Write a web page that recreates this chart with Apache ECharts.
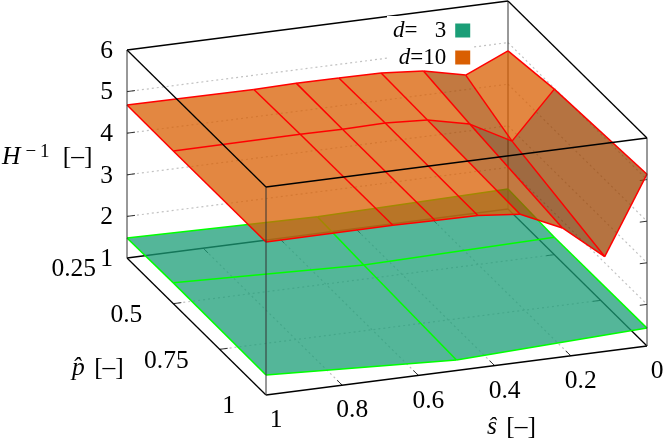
<!DOCTYPE html>
<html>
<head>
<meta charset="utf-8">
<style>html,body{margin:0;padding:0;background:#fff}#c{width:663px;height:440px}</style>
<script src="https://cdn.jsdelivr.net/npm/echarts@6/dist/echarts.min.js"></script>
</head>
<body>
<div id="c"></div>
<script>
// ---- data ----
const pMesh = [0.25, 0.5, 1];
const sMeshD3 = [0, 0.5, 1];
const zD3 = [
  [1.48, 1.40, 1.48],
  [1.42, 1.34, 1.50],
  [1.43, 1.25, 1.48]
];
const sMeshD10 = [0, 0.111, 0.222, 0.333, 0.444, 0.556, 0.667, 1];
const zD10 = [
  [4.80, 4.35, 4.58, 4.66, 4.67, 4.68, 4.66, 4.68],
  [4.98, 3.86, 4.40, 4.63, 4.69, 4.67, 4.68, 4.67],
  [5.13, 3.28, 4.10, 4.56, 4.66, 4.67, 4.69, 4.68]
];
const sTicks = [0, 0.2, 0.4, 0.6, 0.8, 1];
const sTickLabels = ['0', '0.2', '0.4', '0.6', '0.8', '1'];
const pTicks = [0.25, 0.5, 0.75, 1];
const pTickLabels = ['0.25', '0.5', '0.75', '1'];
const zTicks = [1, 2, 3, 4, 5, 6];
const zTickLabels = ['1', '2', '3', '4', '5', '6'];
// brightness of each d=10 facet (row = p band, column = s band)
const shadeD10 = [
  [1, 0.80, 1, 1, 1, 1, 1],
  [0.72, 0.585, 0.80, 1, 1, 1, 1]
];

// ---- view ----
const SHEAR_S = 49, P_DX = 139 / 0.75, P_DY = 137 / 0.75;
const FONT = 'Liberation Serif';
const FS = 25.5;
const P0 = pTicks[0], P1 = 1, Z0 = 1, Z1 = 6;

function project(api, s, p, z) {
  const c = api.coord([s, z]);
  return [c[0] + (p - 1) * P_DX, c[1] - SHEAR_S * (1 - s) + (p - 1) * P_DY];
}
function quads(sArr, zMat, rowBase) {
  const out = [];
  for (let r = 0; r < pMesh.length - 1; r++)
    for (let c = 0; c < sArr.length - 1; c++)
      out.push({
        shade: rowBase ? rowBase[r][c] : 1,
        pts: [[sArr[c], pMesh[r], zMat[r][c]], [sArr[c + 1], pMesh[r], zMat[r][c + 1]],
              [sArr[c + 1], pMesh[r + 1], zMat[r + 1][c + 1]], [sArr[c], pMesh[r + 1], zMat[r + 1][c]]]
      });
  return out;
}
function meshLines(sArr, zMat) {
  const out = [];
  pMesh.forEach((p, r) => {
    for (let c = 0; c < sArr.length - 1; c++)
      out.push([[sArr[c], p, zMat[r][c]], [sArr[c + 1], p, zMat[r][c + 1]]]);
  });
  sArr.forEach((s, c) => {
    for (let r = 0; r < pMesh.length - 1; r++)
      out.push([[s, pMesh[r], zMat[r][c]], [s, pMesh[r + 1], zMat[r + 1][c]]]);
  });
  return out;
}
function fillSeries(name, base, list) {
  return {
    type: 'custom', name, silent: true, animation: false, clip: false,
    itemStyle: { color: 'rgb(' + base.join(',') + ')' },
    data: list.map(q => [q.pts[0][0], q.pts[0][2]]),
    renderItem: (params, api) => {
      const q = list[params.dataIndex];
      const rgb = base.map(v => Math.round(v * q.shade));
      return { type: 'polygon', shape: { points: q.pts.map(a => project(api, a[0], a[1], a[2])) },
        style: { fill: 'rgba(' + rgb.join(',') + ',0.75)', stroke: null } };
    }
  };
}
function lineSeries(list, styleOf) {
  return {
    type: 'custom', silent: true, animation: false, clip: false,
    data: list.map(l => [l[0][0], l[0][2]]),
    renderItem: (params, api) => {
      const l = list[params.dataIndex];
      const a = project(api, l[0][0], l[0][1], l[0][2]);
      const b = project(api, l[1][0], l[1][1], l[1][2]);
      return { type: 'line', shape: { x1: a[0], y1: a[1], x2: b[0], y2: b[1] }, style: styleOf(l) };
    }
  };
}

// back of the box: grid, ticks, rear edges
const gridSegs = [];
zTicks.slice(1, -1).forEach(z => {
  gridSegs.push([[1, P0, z], [0, P0, z]]);
  gridSegs.push([[0, P0, z], [0, P1, z]]);
});
sTicks.slice(1, -1).forEach(s => gridSegs.push([[s, P1, Z0], [s, P0, Z0]]));
pTicks.slice(1, -1).forEach(p => gridSegs.push([[1, p, Z0], [0, p, Z0]]));

const TICK_S = 0.021, TICK_P = 0.027;
const tickSegs = [];
zTicks.slice(1, -1).forEach(z => {
  tickSegs.push([[1, P0, z], [1 - TICK_S, P0, z]]);
  tickSegs.push([[0, P1, z], [TICK_S * 0.9, P1, z]]);
});
sTicks.slice(1, -1).forEach(s => {
  tickSegs.push([[s, P1, Z0], [s, P1 - TICK_P, Z0]]);
  tickSegs.push([[s, P0, Z0], [s, P0 + TICK_P, Z0]]);
});
pTicks.slice(1, -1).forEach(p => {
  tickSegs.push([[1, p, Z0], [1 - TICK_S, p, Z0]]);
  tickSegs.push([[0, p, Z0], [TICK_S, p, Z0]]);
});
const rearEdges = [
  [[1, P0, Z0], [0, P0, Z0]], [[0, P0, Z0], [0, P1, Z0]],
  [[1, P0, Z0], [1, P1, Z0]], [[1, P1, Z0], [0, P1, Z0]]
];
const rearVertical = [[[0, P0, Z0], [0, P0, Z1]]];
const frontVertical = [
  [[1, P0, Z0], [1, P0, Z1]], [[0, P1, Z0], [0, P1, Z1]], [[1, P1, Z0], [1, P1, Z1]]
];
const topEdges = [
  [[1, P0, Z1], [0, P0, Z1]], [[0, P0, Z1], [0, P1, Z1]],
  [[1, P0, Z1], [1, P1, Z1]], [[1, P1, Z1], [0, P1, Z1]]
];

// tick labels and axis titles
const labels = [];
zTicks.forEach((z, i) => labels.push({ at: [1, P0, z], dx: -14, dy: 1, align: 'right', text: zTickLabels[i] }));
pTicks.forEach((p, i) => labels.push({ at: [1, p, Z0], dx: -31, dy: 11.5, align: 'right', text: pTickLabels[i] }));
sTicks.forEach((s, i) => labels.push({ at: [s, P1, Z0], dx: 10, dy: 25.5, align: 'center', text: sTickLabels[i] }));

const titles = [
  { x: 2, y: 157, rich: '{i|H}{u|\u2212\u20091}{t| [\u2013]}' },
  { x: 72, y: 368, rich: '{j|p\u0302}{t| [\u2013]}' },
  { x: 487, y: 427, rich: '{j|s\u0302}{t| [\u2013]}' }
];
const richStyles = {
  i: { fontFamily: FONT, fontStyle: 'italic', fontSize: FS, fill: '#000' },
  j: { fontFamily: FONT, fontStyle: 'italic', fontSize: FS, fill: '#000', padding: [0, 3, 0, 0] },
  t: { fontFamily: FONT, fontSize: FS, fill: '#000' },
  u: { fontFamily: FONT, fontSize: 19, padding: [0, 7, 10, 5], fill: '#000' }
};

const labelSeries = {
  type: 'custom', silent: true, animation: false, clip: false,
  data: labels.map(l => [l.at[0], l.at[2]]),
  renderItem: (params, api) => {
    const l = labels[params.dataIndex];
    const c = project(api, l.at[0], l.at[1], l.at[2]);
    return { type: 'text', x: c[0] + l.dx, y: c[1] + l.dy,
      style: { text: l.text, fontFamily: FONT, fontSize: FS, fill: '#000', align: l.align, verticalAlign: 'middle' } };
  }
};
const titleSeries = {
  type: 'custom', silent: true, animation: false, clip: false,
  data: titles.map(() => [0.5, 3]),
  renderItem: (params) => {
    const t = titles[params.dataIndex];
    return { type: 'text', x: t.x, y: t.y,
      style: { text: t.rich, rich: richStyles, fontFamily: FONT, fontSize: FS, fill: '#000', align: 'left', verticalAlign: 'middle' } };
  }
};

const gridStyle = () => ({ stroke: '#c2c2c2', lineWidth: 1.2, lineDash: [2, 3], fill: null });
const D3 = 'd= 3', D10 = 'd=10';
const green = { stroke: '#00ff00', lineWidth: 1.5, fill: null };
const red = { stroke: '#ff0000', lineWidth: 1.5, fill: null };

const chart = echarts.init(document.getElementById('c'), null, { renderer: 'canvas', width: 663, height: 440 });
chart.setOption({
  animation: false,
  backgroundColor: '#fff',
  grid: { left: 266, top: 187, width: 381, height: 208, show: false },
  xAxis: { type: 'value', min: 0, max: 1, inverse: true, show: false },
  yAxis: { type: 'value', min: Z0, max: Z1, show: false },
  legend: {
    data: [D3, D10], orient: 'vertical', align: 'right', icon: 'rect',
    left: 387, top: 16, padding: [3, 2, 1, 6], itemGap: 4, itemWidth: 15, itemHeight: 14,
    backgroundColor: '#fff', selectedMode: false,
    formatter: n => n === D3 ? '{i|d}{t|=\u2002 3}' : '{i|d}{t|=10}',
    textStyle: { fontFamily: FONT, fontSize: 23, color: '#000', lineHeight: 20,
      rich: {
        i: { fontFamily: FONT, fontStyle: 'italic', fontSize: 23, color: '#000', lineHeight: 20 },
        t: { fontFamily: FONT, fontSize: 23, color: '#000', lineHeight: 20, padding: [0, 4, 0, 0] }
      } }
  },
  series: [
    lineSeries(gridSegs, gridStyle),
    lineSeries(tickSegs, () => ({ stroke: '#333', lineWidth: 1, fill: null })),
    lineSeries(rearVertical, () => ({ stroke: '#333', lineWidth: 1, fill: null })),
    lineSeries(rearEdges, () => ({ stroke: '#000', lineWidth: 1.3, fill: null })),
    fillSeries(D3, [27, 158, 119], quads(sMeshD3, zD3)),
    lineSeries(meshLines(sMeshD3, zD3), () => green),
    fillSeries(D10, [217, 95, 2], quads(sMeshD10, zD10, shadeD10)),
    lineSeries(meshLines(sMeshD10, zD10), () => red),
    lineSeries(frontVertical, () => ({ stroke: '#333', lineWidth: 1, fill: null })),
    lineSeries(topEdges, () => ({ stroke: '#000', lineWidth: 1.3, fill: null })),
    labelSeries,
    titleSeries
  ]
});
</script>
</body>
</html>
